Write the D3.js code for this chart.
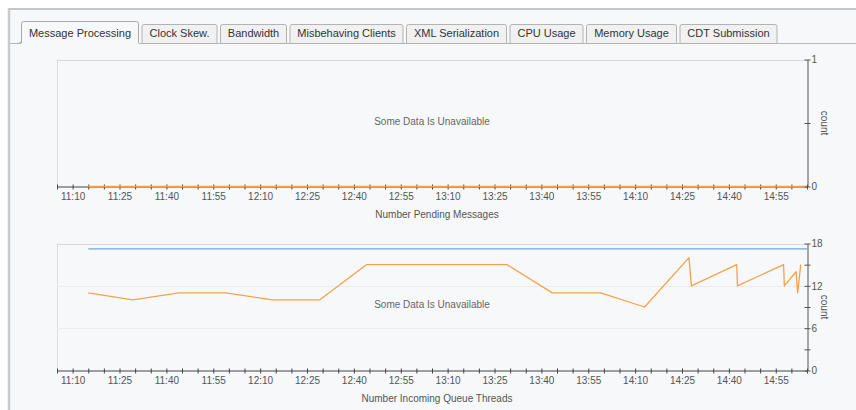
<!DOCTYPE html>
<html>
<head>
<meta charset="utf-8">
<script src="https://cdn.jsdelivr.net/npm/d3@7"></script>
<style>
  body { margin: 0; background: #fff; }
  svg { display: block; font-family: "Liberation Sans", Arial, sans-serif; }
</style>
</head>
<body>
<svg id="chart" width="856" height="410"></svg>
<script>
const tabs = ['Message Processing', 'Clock Skew.', 'Bandwidth', 'Misbehaving Clients',
  'XML Serialization', 'CPU Usage', 'Memory Usage', 'CDT Submission'];
const activeTab = 'Message Processing';

const tickLabels = ['11:10', '11:25', '11:40', '11:55', '12:10', '12:25', '12:40', '12:55',
  '13:10', '13:25', '13:40', '13:55', '14:10', '14:25', '14:40', '14:55'];
const timeDomain = ['11:05:00', '15:05:00'];

// Number Pending Messages
const pendingTimes = ['11:15:00', '12:00:00', '13:00:00', '14:00:00', '15:05:00'];
const pendingValues = [0, 0, 0, 0, 0];

// Number Incoming Queue Threads
const queueTimes = ['11:15:00', '11:29:15', '11:44:00', '11:59:00', '12:14:00', '12:29:00',
  '12:44:00', '13:29:00', '13:43:30', '13:59:00', '14:13:00', '14:27:15', '14:28:00',
  '14:42:30', '14:42:45', '14:57:30', '14:57:45', '15:01:30', '15:02:00', '15:03:00'];
const queueValues = [11, 10, 11, 11, 10, 10, 15, 15, 11, 11, 9, 16, 12, 15, 12, 15, 12, 14, 11, 15];
const maxThreadTimes = ['11:15:00', '15:05:00'];
const maxThreadValues = [17.25, 17.25];

const parse = d3.timeParse('%H:%M:%S');
const fmt = d3.timeFormat('%H:%M');
const labelSet = new Set(tickLabels);

const svg = d3.select('#chart');
const bg = '#f7f8fa';

// panel frame
svg.append('rect').attr('x', 8).attr('y', 8).attr('width', 848).attr('height', 402).attr('fill', bg);
svg.append('line').attr('x1', 8).attr('x2', 856).attr('y1', 9).attr('y2', 9)
  .attr('stroke', '#c6c6c6').attr('stroke-width', 2);
svg.append('line').attr('x1', 9).attr('x2', 9).attr('y1', 8).attr('y2', 410)
  .attr('stroke', '#cbcbcb').attr('stroke-width', 2.5);

// tab strip
const stripY = 43;
svg.append('line').attr('x1', 10).attr('x2', 856).attr('y1', stripY + 0.5).attr('y2', stripY + 0.5)
  .attr('stroke', '#b9b9b9');

const tabG = svg.append('g');
let tx = 21;
tabs.forEach((name) => {
  const active = name === activeTab;
  const t = tabG.append('text').text(name)
    .attr('font-size', 11).attr('fill', '#333');
  const w = Math.round(t.node().getComputedTextLength() + 16);
  const top = active ? 21 : 24;
  const r = 2;
  const x0 = tx + 0.5;
  const x1 = tx + w - 0.5;
  const p = `M${x0},${stripY + 0.5}V${top + r + 0.5}Q${x0},${top + 0.5} ${x0 + r},${top + 0.5}` +
    `H${x1 - r}Q${x1},${top + 0.5} ${x1},${top + r + 0.5}V${stripY + 0.5}`;
  if (active) {
    tabG.insert('path', 'text').attr('d', `${p}Z`).attr('fill', bg).attr('stroke', 'none');
    tabG.insert('path', 'text').attr('d', p).attr('fill', 'none').attr('stroke', '#a9a9a9');
    tabG.insert('path', 'text').attr('d', `M${x0},${stripY - 2}Q${x0},${stripY + 0.5} ${x0 - 4},${stripY + 0.5}`)
      .attr('fill', 'none').attr('stroke', '#a9a9a9');
    tabG.insert('line', 'text').attr('x1', x0).attr('x2', x1).attr('y1', stripY + 0.5).attr('y2', stripY + 0.5)
      .attr('stroke', bg).attr('stroke-width', 1.5);
  } else {
    tabG.insert('path', 'text').attr('d', `${p}Z`).attr('fill', '#f1f1f1').attr('stroke', '#b3b3b3');
  }
  t.attr('x', tx + w / 2).attr('y', 37).attr('text-anchor', 'middle');
  tx += w + 2.5;
});

const x = d3.scaleTime().domain(timeDomain.map(parse)).range([57, 807]);

function panel(opts) {
  const y = d3.scaleLinear().domain(opts.domain).range([opts.bottom, opts.top]);
  const g = svg.append('g');

  // frame: left border and gridlines
  g.append('line').attr('x1', 57.5).attr('x2', 57.5).attr('y1', opts.top).attr('y2', opts.bottom)
    .attr('stroke', '#dcdcdc');
  g.selectAll('.grid').data(opts.grid).join('line')
    .attr('x1', 57).attr('x2', 807)
    .attr('y1', d => Math.round(y(d)) + 0.5).attr('y2', d => Math.round(y(d)) + 0.5)
    .attr('stroke', d => (d === opts.domain[1] ? '#dadada' : '#ececec'));

  g.append('text').text('Some Data Is Unavailable')
    .attr('x', 432).attr('y', (opts.top + opts.bottom) / 2 - 1 + (opts.msgShift || 0))
    .attr('text-anchor', 'middle').attr('dominant-baseline', 'middle')
    .attr('font-size', 10).attr('fill', '#666');

  // series
  const line = d3.line().x(d => x(d.t)).y(d => y(d.v));
  const drawSeries = (s) => {
    const pts = s.times.map((t, i) => ({ t: parse(t), v: s.values[i] }));
    g.append('path').attr('d', line(pts)).attr('fill', 'none')
      .attr('stroke', s.color).attr('stroke-width', 1.3).attr('stroke-linejoin', 'round');
  };
  opts.series.filter(s => !s.overAxis).forEach(drawSeries);

  // x axis
  const ax = g.append('g').attr('transform', `translate(0,${y(0)})`)
    .call(d3.axisBottom(x).ticks(d3.timeMinute.every(5)).tickSize(5).tickSizeOuter(0)
      .tickFormat(d => (labelSet.has(fmt(d)) ? fmt(d) : '')));
  ax.select('.domain').attr('stroke', '#444');
  ax.selectAll('.tick line').attr('y1', -2).attr('y2', 3).attr('stroke', '#444');
  ax.selectAll('.tick text').attr('font-family', 'Liberation Sans, Arial, sans-serif')
    .attr('font-size', 10).attr('fill', '#555').attr('y', 6.5);
  // zero-valued series sit on top of the axis line
  opts.series.filter(s => s.overAxis).forEach(drawSeries);

  // y axis on the right
  const ay = g.append('g').attr('transform', 'translate(807.5,0)')
    .call(d3.axisRight(y).tickValues(opts.ticks).tickSize(3).tickSizeOuter(0)
      .tickFormat(d => (opts.labels.includes(d) ? d : '')));
  ay.select('.domain').attr('stroke', '#555');
  ay.selectAll('.tick line').attr('x1', -3).attr('x2', 3).attr('stroke', '#555');
  ay.selectAll('.tick text').attr('font-family', 'Liberation Sans, Arial, sans-serif')
    .attr('font-size', 10).attr('fill', '#555').attr('x', 4);

  g.append('text').text('count')
    .attr('transform', `translate(821,${(opts.top + opts.bottom) / 2}) rotate(90)`)
    .attr('text-anchor', 'middle').attr('font-size', 10).attr('fill', '#555');

  g.append('text').text(opts.title)
    .attr('x', 437).attr('y', opts.bottom + 31)
    .attr('text-anchor', 'middle').attr('font-size', 10).attr('fill', '#555');
}

panel({
  top: 59.5,
  bottom: 186.5,
  domain: [0, 1],
  grid: [1],
  ticks: [0, 0.5, 1],
  labels: [0, 1],
  title: 'Number Pending Messages',
  msgShift: 0,
  series: [
    { times: pendingTimes, values: pendingValues, color: '#f4a24e', overAxis: true },
  ],
});

panel({
  top: 243.5,
  bottom: 370.5,
  domain: [0, 18],
  grid: [6, 12, 18],
  ticks: [0, 3, 6, 9, 12, 15, 18],
  labels: [0, 6, 12, 18],
  title: 'Number Incoming Queue Threads',
  msgShift: -1,
  series: [
    { times: maxThreadTimes, values: maxThreadValues, color: '#6ea6e4' },
    { times: queueTimes, values: queueValues, color: '#f4a24e' },
  ],
});
</script>
</body>
</html>
